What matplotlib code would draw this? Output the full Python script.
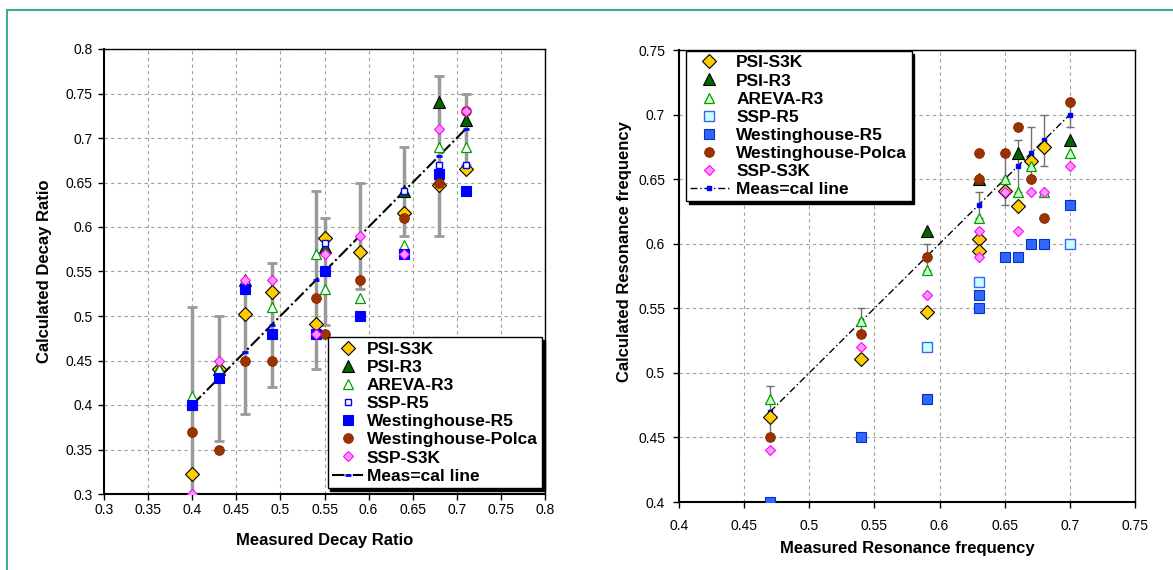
import matplotlib
matplotlib.use("Agg")
import matplotlib.pyplot as plt
from matplotlib.lines import Line2D

plt.rcParams["font.family"] = ["Liberation Sans", "DejaVu Sans"]

# ---------------------------------------------------------------------------
# Decay ratio data (left panel)
# ---------------------------------------------------------------------------
dr_meas = [0.40, 0.43, 0.46, 0.49, 0.54, 0.55, 0.59, 0.64, 0.68, 0.71]
dr_err = [0.11, 0.07, 0.07, 0.07, 0.10, 0.06, 0.06, 0.05, 0.09, 0.04]

dr_psi_s3k_x = [0.40, 0.43, 0.46, 0.49, 0.54, 0.55, 0.59, 0.64, 0.68, 0.71]
dr_psi_s3k_y = [0.323, 0.441, 0.502, 0.527, 0.491, 0.588, 0.572, 0.616, 0.647, 0.665]
dr_psi_r3_x = [0.43, 0.46, 0.55, 0.64, 0.68, 0.71]
dr_psi_r3_y = [0.44, 0.54, 0.578, 0.64, 0.74, 0.72]
dr_areva_x = [0.40, 0.43, 0.46, 0.49, 0.54, 0.55, 0.59, 0.64, 0.68, 0.71]
dr_areva_y = [0.41, 0.44, 0.54, 0.51, 0.57, 0.53, 0.52, 0.58, 0.69, 0.69]
dr_ssp_r5_x = [0.54, 0.55, 0.64, 0.68, 0.71]
dr_ssp_r5_y = [0.48, 0.582, 0.64, 0.67, 0.67]
dr_w_r5_x = [0.40, 0.43, 0.46, 0.49, 0.54, 0.55, 0.59, 0.64, 0.68, 0.71]
dr_w_r5_y = [0.40, 0.43, 0.53, 0.48, 0.48, 0.55, 0.50, 0.57, 0.66, 0.64]
dr_polca_x = [0.40, 0.43, 0.46, 0.49, 0.54, 0.55, 0.59, 0.64, 0.68, 0.71]
dr_polca_y = [0.37, 0.35, 0.45, 0.45, 0.52, 0.48, 0.54, 0.61, 0.65, 0.73]
dr_ssp_s3k_x = [0.40, 0.43, 0.46, 0.49, 0.54, 0.55, 0.59, 0.64, 0.68, 0.71]
dr_ssp_s3k_y = [0.30, 0.45, 0.54, 0.54, 0.48, 0.57, 0.59, 0.57, 0.71, 0.73]

# ---------------------------------------------------------------------------
# Resonance frequency data (right panel)
# ---------------------------------------------------------------------------
rf_meas = [0.47, 0.54, 0.59, 0.63, 0.65, 0.66, 0.67, 0.68, 0.70]
rf_err = [0.02, 0.01, 0.01, 0.01, 0.02, 0.02, 0.02, 0.02, 0.01]

rf_psi_s3k_x = [0.47, 0.54, 0.59, 0.63, 0.63, 0.65, 0.66, 0.67, 0.68]
rf_psi_s3k_y = [0.466, 0.511, 0.547, 0.604, 0.594, 0.641, 0.629, 0.664, 0.675]
rf_psi_r3_x = [0.59, 0.63, 0.66, 0.70]
rf_psi_r3_y = [0.61, 0.65, 0.67, 0.68]
rf_areva_x = [0.47, 0.54, 0.59, 0.63, 0.65, 0.66, 0.67, 0.68, 0.70]
rf_areva_y = [0.48, 0.54, 0.58, 0.62, 0.65, 0.64, 0.66, 0.64, 0.67]
rf_ssp_r5_x = [0.59, 0.63, 0.70]
rf_ssp_r5_y = [0.52, 0.57, 0.60]
rf_w_r5_x = [0.47, 0.54, 0.59, 0.63, 0.63, 0.65, 0.66, 0.67, 0.68, 0.70]
rf_w_r5_y = [0.40, 0.45, 0.48, 0.56, 0.55, 0.59, 0.59, 0.60, 0.60, 0.63]
rf_polca_x = [0.47, 0.54, 0.59, 0.63, 0.63, 0.65, 0.66, 0.67, 0.68, 0.70]
rf_polca_y = [0.45, 0.53, 0.59, 0.67, 0.65, 0.67, 0.69, 0.65, 0.62, 0.71]
rf_ssp_s3k_x = [0.47, 0.54, 0.59, 0.63, 0.63, 0.65, 0.66, 0.67, 0.68, 0.70]
rf_ssp_s3k_y = [0.44, 0.52, 0.56, 0.61, 0.59, 0.64, 0.61, 0.64, 0.64, 0.66]

labels = ["PSI-S3K", "PSI-R3", "AREVA-R3", "SSP-R5", "Westinghouse-R5",
          "Westinghouse-Polca", "SSP-S3K", "Meas=cal line"]

dr_ticks = [0.3, 0.35, 0.4, 0.45, 0.5, 0.55, 0.6, 0.65, 0.7, 0.75, 0.8]
rf_ticks = [0.4, 0.45, 0.5, 0.55, 0.6, 0.65, 0.7, 0.75]

W, H = 1173, 570
fig = plt.figure(figsize=(W / 100, H / 100), dpi=100)

# teal frame of the original slide
fig.add_artist(Line2D([7 / W, 7 / W], [0, 1 - 10 / H], color="#3fa898", lw=1.5))
fig.add_artist(Line2D([7 / W, 1], [1 - 10 / H, 1 - 10 / H], color="#3fa898", lw=1.5))

ax1 = fig.add_axes([104 / W, 1 - 494 / H, 441 / W, 445 / H])
ax2 = fig.add_axes([679 / W, 1 - 502 / H, 456 / W, 452 / H])


def style_axes(ax, ticks, xpad, ypad):
    ax.set_xlim(ticks[0], ticks[-1])
    ax.set_ylim(ticks[0], ticks[-1])
    ax.set_xticks(ticks)
    ax.set_yticks(ticks)
    ax.set_xticklabels([f"{t:g}" for t in ticks])
    ax.set_yticklabels([f"{t:g}" for t in ticks])
    ax.grid(True, color="#a0a0a0", lw=0.8, linestyle=(0, (3, 3)))
    ax.set_axisbelow(True)
    for side in ["left", "bottom"]:
        ax.spines[side].set_linewidth(1.5)
    for side in ["top", "right"]:
        ax.spines[side].set_linewidth(1.0)
    ax.tick_params(axis="x", direction="out", length=4, width=1, labelsize=10, pad=xpad)
    ax.tick_params(axis="y", direction="out", length=4, width=1, labelsize=10, pad=ypad)


style_axes(ax1, dr_ticks, 2.5, 4)
style_axes(ax2, rf_ticks, 8, 6)

# ---------------------------------------------------------------------------
# Left: decay ratio
# ---------------------------------------------------------------------------
ax1.errorbar(dr_meas, dr_meas, yerr=dr_err, fmt="none", ecolor="#9a9a9a",
             elinewidth=2.5, capsize=3.5, capthick=2, zorder=2)
h_meas1, = ax1.plot(dr_meas, dr_meas, color="black", lw=1.5, linestyle=(0, (6, 1.5, 1, 1.5)),
                    marker="_", markersize=4, mec="blue", mew=2, zorder=3)
h1 = [
    ax1.plot(dr_psi_s3k_x, dr_psi_s3k_y, "D", ms=7, mfc="#ffcc00", mec="black", mew=0.8, zorder=4)[0],
    ax1.plot(dr_psi_r3_x, dr_psi_r3_y, "^", ms=9, mfc="#006600", mec="black", mew=0.8, zorder=4)[0],
    ax1.plot(dr_areva_x, dr_areva_y, "^", ms=6.5, mfc="white", mec="#00a000", mew=0.9, zorder=4)[0],
    ax1.plot(dr_ssp_r5_x, dr_ssp_r5_y, "s", ms=4, mfc="white", mec="#0000ff", mew=1, zorder=4)[0],
    ax1.plot(dr_w_r5_x, dr_w_r5_y, "s", ms=6.5, mfc="#0000ff", mec="#0000ff", mew=0.8, zorder=4)[0],
    ax1.plot(dr_polca_x, dr_polca_y, "o", ms=7, mfc="#993300", mec="#882200", mew=0.6, zorder=4)[0],
    ax1.plot(dr_ssp_s3k_x, dr_ssp_s3k_y, "D", ms=5, mfc="#ff99ff", mec="#ff00ff", mew=0.8, zorder=4)[0],
    h_meas1,
]

ax1.set_xlabel("Measured Decay Ratio", fontsize=12, fontweight="bold")
ax1.set_ylabel("Calculated Decay Ratio", fontsize=12, fontweight="bold")
ax1.xaxis.set_label_coords(0.501, -0.088)
ax1.yaxis.set_label_coords(-0.118, 0.5)

# ---------------------------------------------------------------------------
# Right: resonance frequency
# ---------------------------------------------------------------------------
ax2.errorbar(rf_meas, rf_meas, yerr=rf_err, fmt="none", ecolor="#707070",
             elinewidth=1, capsize=3, capthick=1, zorder=2)
h_meas2, = ax2.plot(rf_meas, rf_meas, color="black", lw=1.0, linestyle=(0, (5, 2, 1, 2)),
                    marker="s", markersize=2.5, mfc="blue", mec="blue", zorder=3)
h2 = [
    ax2.plot(rf_psi_s3k_x, rf_psi_s3k_y, "D", ms=7, mfc="#ffcc00", mec="black", mew=0.8, zorder=4)[0],
    ax2.plot(rf_psi_r3_x, rf_psi_r3_y, "^", ms=9, mfc="#006600", mec="black", mew=0.8, zorder=4)[0],
    ax2.plot(rf_areva_x, rf_areva_y, "^", ms=6.5, mfc="#ccffcc", mec="#00a000", mew=0.9, zorder=4)[0],
    ax2.plot(rf_ssp_r5_x, rf_ssp_r5_y, "s", ms=6.5, mfc="#ccffff", mec="#3366ff", mew=1, zorder=4)[0],
    ax2.plot(rf_w_r5_x, rf_w_r5_y, "s", ms=6.5, mfc="#3366ff", mec="#0033cc", mew=0.8, zorder=4)[0],
    ax2.plot(rf_polca_x, rf_polca_y, "o", ms=7, mfc="#993300", mec="#882200", mew=0.6, zorder=4)[0],
    ax2.plot(rf_ssp_s3k_x, rf_ssp_s3k_y, "D", ms=5, mfc="#ff99ff", mec="#ff00ff", mew=0.8, zorder=4)[0],
    h_meas2,
]

ax2.set_xlabel("Measured Resonance frequency", fontsize=12, fontweight="bold")
ax2.set_ylabel("Calculated Resonance frequency", fontsize=12, fontweight="bold")
ax2.xaxis.set_label_coords(0.5, -0.086)
ax2.yaxis.set_label_coords(-0.103, 0.555)

# ---------------------------------------------------------------------------
# Legends
# ---------------------------------------------------------------------------
leg_kw = dict(frameon=True, fancybox=False, edgecolor="black", framealpha=1,
              prop={"weight": "bold", "size": 12.5}, labelspacing=0.17,
              borderaxespad=0, numpoints=1, shadow={"color": "black", "alpha": 1})

leg1 = ax1.legend(h1, labels, loc="lower right", bbox_to_anchor=(0.993, 0.0135),
                  handlelength=1.8, handletextpad=0.2, borderpad=0.25, **leg_kw)
leg1.get_frame().set_linewidth(1.0)
leg2 = ax2.legend(h2, labels, loc="upper left", bbox_to_anchor=(0.0154, 0.998),
                  handlelength=2.2, handletextpad=0.45, borderpad=0.25, **leg_kw)
leg2.get_frame().set_linewidth(1.0)

fig.savefig("out.png", dpi=100)
